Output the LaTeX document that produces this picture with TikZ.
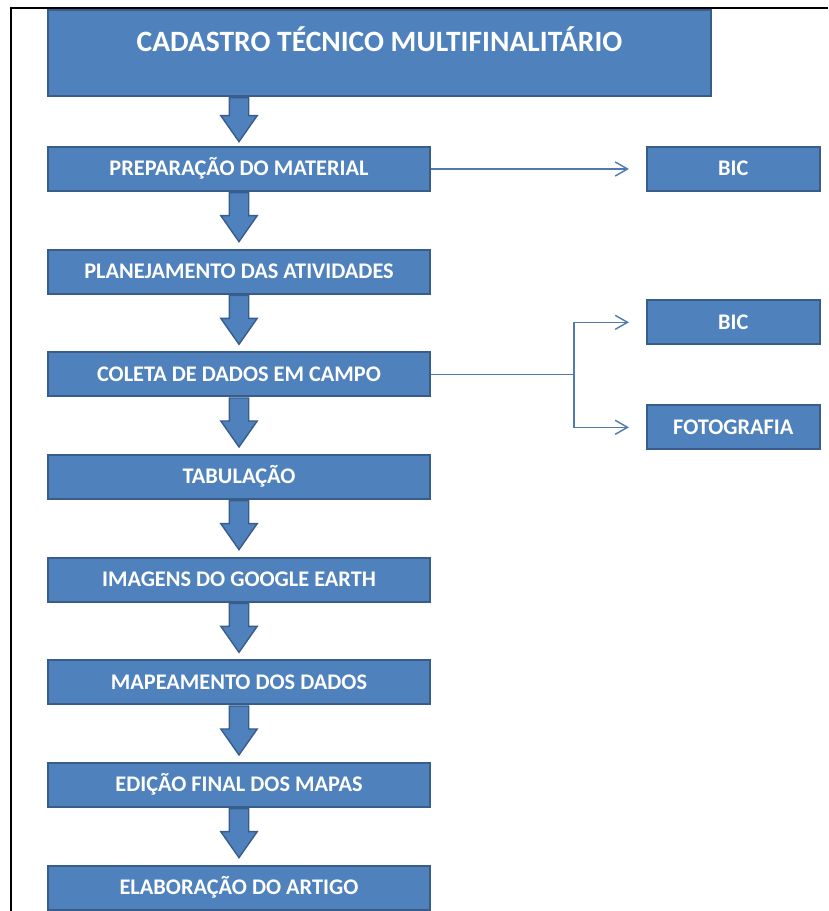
\documentclass[tikz,border=0pt]{standalone}
\usepackage{fontspec}
\setmainfont{Carlito}
\usepackage{xcolor}
\usepackage{tikz}
\usetikzlibrary{shapes.arrows, arrows.meta, positioning, calc}

\definecolor{azul}{RGB}{79,129,189}
\definecolor{bordaazul}{RGB}{56,93,138}
\definecolor{fioazul}{RGB}{80,122,175}

\begin{document}
\begin{tikzpicture}[
    x=0.02cm, y=-0.02cm,
    titulo/.style={draw=bordaazul, fill=azul, line width=1.1pt, minimum width=13.26cm, minimum height=1.72cm, text=white, font=\fontsize{16.8}{20}\selectfont\bfseries, text height=0.38cm, text depth=0.44cm},
    etapa/.style={draw=bordaazul, fill=azul, line width=1.1pt, minimum width=7.64cm, minimum height=0.88cm, text=white, font=\fontsize{12.7}{15}\selectfont\bfseries, text height=0.28cm, text depth=0pt},
    saida/.style={etapa, minimum width=3.46cm},
    seta/.style={single arrow, draw=bordaazul, fill=azul, line width=0.8pt, rotate=-90, anchor=tail, inner sep=0.18cm, single arrow head extend=0.17cm, single arrow tip angle=70, minimum height=0.98cm},
    fio/.style={draw=fioazul, line width=0.8pt, -{Straight Barb[length=7pt, width=8pt]}, shorten >=0.34cm},
]
\useasboundingbox (0,0) rectangle (828,911);

% moldura
\draw[line width=1.5pt] (11,911) -- (11,8) -- (828,8);

\node[titulo] (titulo) at (379.5,53) {CADASTRO TÉCNICO MULTIFINALITÁRIO};

\node[etapa] (prep) at (239,169) {PREPARAÇÃO DO MATERIAL};
\node[etapa, below=1.135cm of prep] (plan) {PLANEJAMENTO DAS ATIVIDADES};
\node[etapa, below=1.135cm of plan] (coleta) {COLETA DE DADOS EM CAMPO};
\node[etapa, below=1.135cm of coleta] (tab) {TABULAÇÃO};
\node[etapa, below=1.135cm of tab] (img) {IMAGENS DO GOOGLE EARTH};
\node[etapa, below=1.135cm of img] (mapa) {MAPEAMENTO DOS DADOS};
\node[etapa, below=1.135cm of mapa] (edic) {EDIÇÃO FINAL DOS MAPAS};
\node[etapa, below=1.135cm of edic] (artigo) {ELABORAÇÃO DO ARTIGO};

\node[saida, right=4.3cm of prep] (bic1) {BIC};
\node[saida, right=4.3cm of coleta, yshift=1.04cm] (bic2) {BIC};
\node[saida, right=4.3cm of coleta, yshift=-1.06cm] (foto) {FOTOGRAFIA};

% setas grossas
\node[seta, minimum height=0.88cm] (s1) at (titulo.south -| prep.south) {};
\node[seta] (s2) at (prep.south) {};
\node[seta] (s3) at (plan.south) {};
\node[seta] (s4) at (coleta.south) {};
\node[seta] (s5) at (tab.south) {};
\node[seta] (s6) at (img.south) {};
\node[seta] (s7) at (mapa.south) {};
\node[seta] (s8) at (edic.south) {};

\coordinate (ramo) at ($(coleta.east)+(2.86cm,0)$);

\draw[fio] (prep.east) -- (bic1.west);
\draw[fio, shorten >=0pt, -] (coleta.east) -- (ramo);
\draw[fio] (ramo) |- (bic2.west);
\draw[fio] (ramo) |- (foto.west);

\end{tikzpicture}
\end{document}
